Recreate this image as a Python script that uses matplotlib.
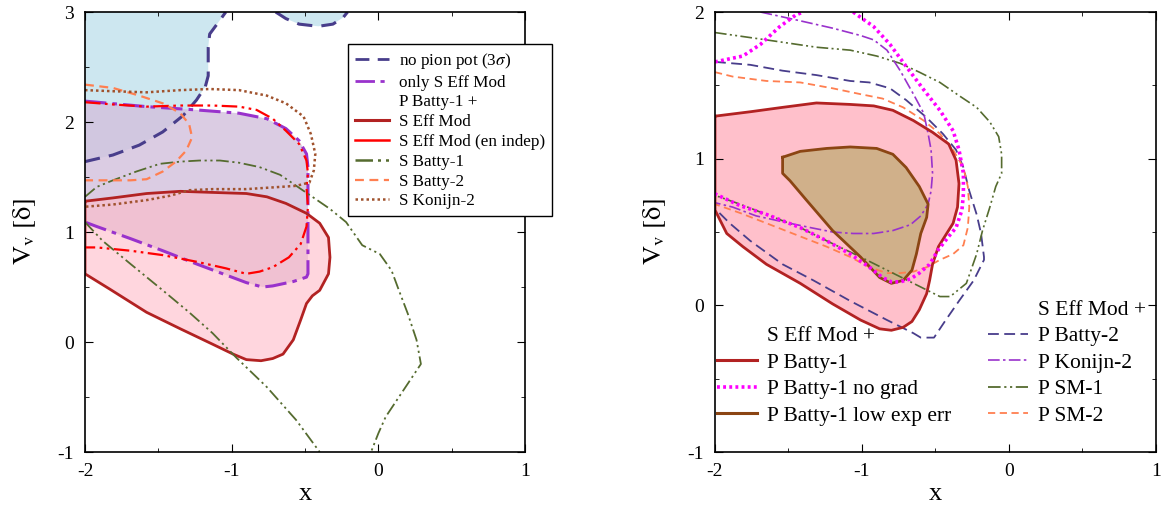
import numpy as np
import matplotlib
matplotlib.use("Agg")
import matplotlib.pyplot as plt
from matplotlib.lines import Line2D
from matplotlib.ticker import MultipleLocator

plt.rcParams['font.family'] = ['Liberation Serif', 'DejaVu Serif']
plt.rcParams['mathtext.fontset'] = 'stix'

# ---------------- left panel contours (x, V_v) ----------------
nopion_x = [-2.00, -1.81, -1.63, -1.47, -1.33, -1.24, -1.18, -1.16, -1.16, -1.15, -1.10, -1.04]
nopion_y = [1.64, 1.70, 1.79, 1.91, 2.06, 2.20, 2.32, 2.42, 2.68, 2.80, 2.89, 3.00]
nopion_top_x = [-0.70, -0.63, -0.54, -0.41, -0.31, -0.24, -0.21]
nopion_top_y = [3.00, 2.94, 2.89, 2.87, 2.89, 2.95, 3.00]

onlyS_x = [-2.00, -1.58, -1.24, -0.95, -0.76, -0.63, -0.54, -0.49, -0.48, -0.48, -0.48, -0.49,
           -0.58, -0.72, -0.79, -0.90, -1.06, -1.24, -1.47, -1.69, -1.92, -2.00]
onlyS_y = [2.19, 2.14, 2.11, 2.08, 2.03, 1.94, 1.83, 1.71, 1.59, 1.44, 0.62, 0.59,
           0.55, 0.51, 0.50, 0.54, 0.62, 0.71, 0.83, 0.94, 1.05, 1.09]

seff_x = [-2.00, -1.81, -1.58, -1.35, -1.13, -0.90, -0.76, -0.63, -0.49, -0.40, -0.34, -0.33, -0.34, -0.40,
          -0.45, -0.49, -0.53, -0.58, -0.65, -0.72, -0.80, -0.90, -0.99, -1.13, -1.35, -1.58, -1.83, -2.00]
seff_y = [1.28, 1.31, 1.35, 1.37, 1.36, 1.35, 1.32, 1.26, 1.17, 1.08, 0.95, 0.77, 0.62, 0.47,
          0.42, 0.35, 0.20, 0.02, -0.11, -0.15, -0.17, -0.16, -0.11, -0.02, 0.12, 0.27, 0.48, 0.62]

enindep_x = [-2.00, -1.81, -1.58, -1.35, -1.13, -0.95, -0.83, -0.72, -0.63, -0.54, -0.49, -0.48, -0.49,
             -0.48, -0.49, -0.53, -0.61, -0.72, -0.81, -0.90, -1.04, -1.24, -1.47, -1.69, -1.92, -2.00]
enindep_y = [2.18, 2.16, 2.14, 2.15, 2.15, 2.14, 2.11, 2.03, 1.92, 1.80, 1.65, 1.53, 1.41,
             1.23, 1.05, 0.89, 0.77, 0.68, 0.64, 0.62, 0.67, 0.73, 0.79, 0.83, 0.86, 0.86]

sbatty1_up_x = [-2.00, -1.92, -1.81, -1.65, -1.49, -1.35, -1.22, -1.08, -0.95, -0.81, -0.67, -0.56, -0.45,
                -0.33, -0.22, -0.11, 0.01, 0.09, 0.14, 0.20, 0.26, 0.29, 0.23, 0.14, 0.05, 0.00, -0.05]
sbatty1_up_y = [1.32, 1.41, 1.47, 1.55, 1.62, 1.64, 1.65, 1.65, 1.63, 1.59, 1.52, 1.42, 1.32,
                1.21, 1.09, 0.88, 0.80, 0.65, 0.47, 0.26, 0.02, -0.20, -0.32, -0.50, -0.68, -0.83, -1.00]
sbatty1_lo_x = [-2.00, -1.88, -1.69, -1.47, -1.29, -1.13, -0.97, -0.76, -0.56, -0.40]
sbatty1_lo_y = [1.09, 0.92, 0.71, 0.47, 0.27, 0.08, -0.14, -0.41, -0.71, -1.00]

sbatty2_x = [-2.00, -1.81, -1.63, -1.47, -1.35, -1.29, -1.27, -1.31, -1.38, -1.47, -1.58, -1.69, -1.85, -2.00]
sbatty2_y = [2.34, 2.31, 2.24, 2.17, 2.08, 1.98, 1.86, 1.74, 1.64, 1.55, 1.48, 1.47, 1.47, 1.47]

skonijn2_x = [-2.00, -1.81, -1.58, -1.35, -1.15, -0.95, -0.76, -0.63, -0.51, -0.46, -0.43, -0.44,
              -0.47, -0.56, -0.67, -0.90, -1.13, -1.29, -1.42, -1.58, -1.81, -2.00]
skonijn2_y = [2.29, 2.28, 2.27, 2.29, 2.30, 2.29, 2.24, 2.17, 2.05, 1.89, 1.71, 1.56,
              1.45, 1.42, 1.41, 1.39, 1.39, 1.38, 1.33, 1.29, 1.25, 1.23]

# ---------------- right panel contours ----------------
pbatty1_x = [-2.00, -1.76, -1.54, -1.31, -1.08, -0.92, -0.79, -0.65, -0.52, -0.41, -0.36, -0.34, -0.35, -0.38,
             -0.43, -0.48, -0.52, -0.54, -0.56, -0.61, -0.66, -0.72, -0.80, -0.88, -1.01, -1.20, -1.42,
             -1.65, -1.81, -1.92, -2.00]
pbatty1_y = [1.29, 1.32, 1.35, 1.38, 1.37, 1.36, 1.33, 1.26, 1.18, 1.10, 0.99, 0.83, 0.67, 0.56,
             0.48, 0.40, 0.28, 0.17, 0.08, -0.03, -0.11, -0.15, -0.17, -0.16, -0.10, 0.01, 0.15,
             0.28, 0.40, 0.49, 0.65]

lowerr_x = [-1.54, -1.42, -1.24, -1.08, -0.90, -0.79, -0.70, -0.61, -0.55, -0.56, -0.60, -0.63, -0.66,
            -0.72, -0.80, -0.88, -1.01, -1.20, -1.38, -1.49, -1.54]
lowerr_y = [1.01, 1.05, 1.07, 1.08, 1.07, 1.03, 0.94, 0.81, 0.69, 0.60, 0.49, 0.35, 0.24,
            0.17, 0.15, 0.19, 0.33, 0.51, 0.72, 0.85, 0.90]

nograd_up_x = [-2.00, -1.81, -1.69, -1.56, -1.45, -1.40]
nograd_up_y = [1.66, 1.70, 1.78, 1.90, 1.98, 2.00]
nograd_x = [-1.06, -0.92, -0.81, -0.70, -0.58, -0.47, -0.38, -0.34, -0.31, -0.31, -0.32, -0.36, -0.41, -0.48,
            -0.54, -0.61, -0.67, -0.74, -0.80, -0.86, -0.95, -1.08, -1.24, -1.42, -1.65, -1.83, -2.00]
nograd_y = [2.00, 1.90, 1.78, 1.63, 1.47, 1.33, 1.19, 1.06, 0.90, 0.76, 0.65, 0.53, 0.47, 0.38,
            0.28, 0.22, 0.18, 0.16, 0.16, 0.19, 0.26, 0.35, 0.44, 0.53, 0.62, 0.68, 0.76]

pkonijn2_x = [-1.69, -1.42, -1.20, -1.01, -0.92, -0.83, -0.74, -0.65, -0.58, -0.55, -0.53, -0.52, -0.53,
              -0.55, -0.60, -0.67, -0.79, -0.92, -1.06, -1.20, -1.35, -1.54, -1.72, -1.88, -2.00]
pkonijn2_y = [2.00, 1.94, 1.89, 1.84, 1.81, 1.74, 1.60, 1.44, 1.31, 1.17, 1.06, 0.90, 0.78,
              0.69, 0.61, 0.55, 0.51, 0.49, 0.49, 0.50, 0.53, 0.57, 0.61, 0.67, 0.70]

psm1_x = [-2.00, -1.65, -1.31, -1.08, -0.90, -0.74, -0.61, -0.47, -0.34, -0.22, -0.13, -0.07, -0.05, -0.05,
          -0.09, -0.13, -0.18, -0.22, -0.29, -0.40, -0.47, -0.61, -0.79, -1.01, -1.24, -1.42, -1.65, -1.83, -2.00]
psm1_y = [1.86, 1.81, 1.76, 1.74, 1.70, 1.65, 1.59, 1.52, 1.43, 1.35, 1.25, 1.15, 1.03, 0.90,
          0.81, 0.67, 0.51, 0.35, 0.15, 0.06, 0.06, 0.13, 0.22, 0.33, 0.44, 0.53, 0.62, 0.69, 0.75]

pbatty2_x = [-2.00, -1.76, -1.54, -1.31, -1.08, -0.95, -0.81, -0.70, -0.56, -0.45, -0.36, -0.31, -0.27, -0.22,
             -0.19, -0.17, -0.17, -0.24, -0.34, -0.43, -0.51, -0.60, -0.65, -0.83, -1.08, -1.33, -1.54,
             -1.76, -1.90, -2.00]
pbatty2_y = [1.66, 1.64, 1.60, 1.57, 1.53, 1.52, 1.48, 1.40, 1.28, 1.17, 1.06, 0.94, 0.78, 0.62,
             0.49, 0.33, 0.31, 0.17, 0.03, -0.10, -0.22, -0.22, -0.19, -0.10, 0.03, 0.17, 0.28,
             0.44, 0.56, 0.66]

psm2_x = [-2.00, -1.88, -1.65, -1.42, -1.20, -1.01, -0.86, -0.72, -0.58, -0.47, -0.38, -0.31, -0.28, -0.27,
          -0.28, -0.31, -0.38, -0.47, -0.56, -0.65, -0.74, -0.83, -0.95, -1.08, -1.24, -1.42, -1.65, -1.83, -2.00]
psm2_y = [1.59, 1.56, 1.53, 1.52, 1.48, 1.44, 1.41, 1.35, 1.26, 1.17, 1.06, 0.94, 0.81, 0.67,
          0.53, 0.41, 0.35, 0.31, 0.26, 0.23, 0.22, 0.22, 0.26, 0.33, 0.40, 0.47, 0.56, 0.63, 0.69]

xticks = [-2, -1, 0, 1]
xticklabels = ['-2', '-1', '0', '1']
yticks_left = [-1, 0, 1, 2, 3]
yticks_right = [-1, 0, 1, 2]

C_BLUE = '#483d8b'
C_VIOLET = '#9932cc'
C_RED = '#b22222'
C_GREEN = '#556b2f'
C_CORAL = '#ff7f50'
C_SIENNA = '#a0522d'
DASHDOTDOT = (0, (7, 2, 1.2, 2, 1.2, 2))


def style_axes(ax, ylim, yticks):
    ax.set_xlim(-2, 1)
    ax.set_ylim(*ylim)
    ax.set_xticks(xticks)
    ax.set_xticklabels(xticklabels)
    ax.set_yticks(yticks)
    ax.set_yticklabels([str(t) for t in yticks])
    ax.xaxis.set_minor_locator(MultipleLocator(0.5))
    ax.yaxis.set_minor_locator(MultipleLocator(0.5))
    ax.tick_params(which='both', direction='in', top=True, right=True, labelsize=14, pad=8)
    ax.tick_params(which='major', length=6)
    ax.tick_params(which='minor', length=3)
    for s in ax.spines.values():
        s.set_linewidth(1.2)
    ax.set_xlabel('x', fontsize=19, labelpad=2)
    ax.set_ylabel(r'$\mathrm{V_v\ [\delta]}$', fontsize=19, labelpad=14)


fig = plt.figure(figsize=(11.66, 5.14), dpi=100)
axL = fig.add_axes([0.0729, 0.1206, 0.3774, 0.856])
axR = fig.add_axes([0.6132, 0.1206, 0.3782, 0.856])

# left panel: filled regions
axL.fill(nopion_x + [-2.0], nopion_y + [3.0], color='#add8e6', alpha=0.6, lw=0)
axL.fill(nopion_top_x, nopion_top_y, color='#add8e6', alpha=0.6, lw=0)
axL.fill(onlyS_x, onlyS_y, color='#d3c0dd', alpha=0.8, lw=0)
axL.fill(seff_x, seff_y, color='#ffbbc8', alpha=0.6, lw=0)

axL.plot(nopion_x, nopion_y, color=C_BLUE, lw=2.2, ls=(0, (5, 3)))
axL.plot(nopion_top_x, nopion_top_y, color=C_BLUE, lw=2.2, ls=(0, (5, 3)))
axL.plot(onlyS_x, onlyS_y, color=C_VIOLET, lw=2.2, ls=(0, (7, 2, 1.5, 2)))
axL.plot(seff_x + seff_x[:1], seff_y + seff_y[:1], color=C_RED, lw=2.0)
axL.plot(enindep_x, enindep_y, color='red', lw=1.6, ls=DASHDOTDOT)
axL.plot(sbatty1_up_x, sbatty1_up_y, color=C_GREEN, lw=1.3, ls=DASHDOTDOT)
axL.plot(sbatty1_lo_x, sbatty1_lo_y, color=C_GREEN, lw=1.3, ls=DASHDOTDOT)
axL.plot(sbatty2_x, sbatty2_y, color=C_CORAL, lw=1.6, ls=(0, (4, 2.5)))
axL.plot(skonijn2_x, skonijn2_y, color=C_SIENNA, lw=1.8, ls=(0, (1, 1.2)))

style_axes(axL, (-1, 3), yticks_left)

left_handles = [
    Line2D([], [], color=C_BLUE, lw=2.0, ls=(0, (5, 3))),
    Line2D([], [], color=C_VIOLET, lw=2.0, ls=(0, (7, 2, 1.5, 2))),
    Line2D([], [], color='none'),
    Line2D([], [], color=C_RED, lw=2.2),
    Line2D([], [], color='red', lw=1.8),
    Line2D([], [], color=C_GREEN, lw=1.8, ls=DASHDOTDOT),
    Line2D([], [], color=C_CORAL, lw=1.6, ls=(0, (4, 2.5))),
    Line2D([], [], color=C_SIENNA, lw=1.8, ls=(0, (1, 1.2))),
]
left_labels = [r'no pion pot (3$\sigma$)', 'only S Eff Mod', 'P Batty-1 +', 'S Eff Mod',
               'S Eff Mod (en indep)', 'S Batty-1', 'S Batty-2', 'S Konijn-2']
legL = axL.legend(left_handles, left_labels, loc='upper left', bbox_to_anchor=(0.598, 0.927),
                  borderaxespad=0, fontsize=12.3, handlelength=2.0, handletextpad=0.55,
                  labelspacing=0.22, borderpad=0.4, fancybox=False, edgecolor='black', framealpha=1)
legL.get_frame().set_linewidth(1.0)
legL.set_zorder(10)

# right panel
axR.fill(pbatty1_x, pbatty1_y, color='#ffc0cb', alpha=1.0, lw=0)
axR.fill(lowerr_x, lowerr_y, color='#d0b08a', alpha=1.0, lw=0)

axR.plot(pbatty2_x, pbatty2_y, color=C_BLUE, lw=1.3, ls=(0, (6, 3)))
axR.plot(psm2_x, psm2_y, color=C_CORAL, lw=1.3, ls=(0, (4, 2.5)))
axR.plot(psm1_x, psm1_y, color=C_GREEN, lw=1.2, ls=DASHDOTDOT)
axR.plot(pkonijn2_x, pkonijn2_y, color=C_VIOLET, lw=1.2, ls=(0, (7, 2, 1.5, 2)))
axR.plot(pbatty1_x + pbatty1_x[:1], pbatty1_y + pbatty1_y[:1], color=C_RED, lw=2.0)
axR.plot(lowerr_x + lowerr_x[:1], lowerr_y + lowerr_y[:1], color='#8b4513', lw=2.0)
axR.plot(nograd_up_x, nograd_up_y, color='magenta', lw=2.6, ls=(0, (0.8, 0.9)))
axR.plot(nograd_x, nograd_y, color='magenta', lw=2.6, ls=(0, (0.8, 0.9)))

style_axes(axR, (-1, 2), yticks_right)

hl = [Line2D([], [], color='none'),
      Line2D([], [], color=C_RED, lw=2.2),
      Line2D([], [], color='magenta', lw=2.6, ls=(0, (0.8, 0.9))),
      Line2D([], [], color='#8b4513', lw=2.2)]
ll = ['S Eff Mod +', 'P Batty-1', 'P Batty-1 no grad', 'P Batty-1 low exp err']
leg1 = axR.legend(hl, ll, loc='lower left', bbox_to_anchor=(-0.005, 0.05), borderaxespad=0,
                  fontsize=15.5, handlelength=1.85, handletextpad=0.45, labelspacing=0.3,
                  borderpad=0.2, frameon=False)
axR.add_artist(leg1)

hr = [Line2D([], [], color='none'),
      Line2D([], [], color=C_BLUE, lw=1.3, ls=(0, (6, 3))),
      Line2D([], [], color=C_VIOLET, lw=1.2, ls=(0, (7, 2, 1.5, 2))),
      Line2D([], [], color=C_GREEN, lw=1.3, ls=DASHDOTDOT),
      Line2D([], [], color=C_CORAL, lw=1.3, ls=(0, (4, 2.5)))]
lr = ['S Eff Mod +', 'P Batty-2', 'P Konijn-2', 'P SM-1', 'P SM-2']
axR.legend(hr, lr, loc='lower left', bbox_to_anchor=(0.61, 0.05), borderaxespad=0,
           fontsize=15.5, handlelength=1.85, handletextpad=0.45, labelspacing=0.3,
           borderpad=0.2, frameon=False)

fig.savefig('out.png', dpi=100)
